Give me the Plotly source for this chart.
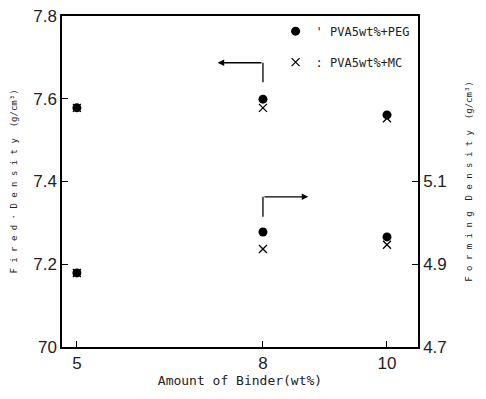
import plotly.graph_objects as go

binder = [5, 8, 10]
peg_fired = [7.578, 7.599, 7.561]
mc_fired = [7.578, 7.578, 7.553]
peg_forming = [4.879, 4.978, 4.966]
mc_forming = [4.879, 4.937, 4.947]

left_ticks = [7.0, 7.2, 7.4, 7.6, 7.8]
left_labels = ["70", "7.2", "7.4", "7.6", "7.8"]
right_ticks = [4.7, 4.9, 5.1]
right_labels = ["4.7", "4.9", "5.1"]
x_ticks = [5, 8, 10]

mono = "DejaVu Sans Mono"
tickfont = dict(family="Liberation Sans", size=17, color="#222")

fig = go.Figure()
fig.add_trace(go.Scatter(x=binder, y=peg_fired, mode="markers", name="' PVA5wt%+PEG",
                         legendgroup="peg", marker=dict(symbol="circle", size=9, color="black")))
fig.add_trace(go.Scatter(x=binder, y=peg_forming, mode="markers", showlegend=False, yaxis="y2",
                         legendgroup="peg", marker=dict(symbol="circle", size=9, color="black")))
fig.add_trace(go.Scatter(x=binder, y=mc_fired, mode="markers", name=": PVA5wt%+MC",
                         legendgroup="mc", marker=dict(symbol="x-thin", size=8, color="black",
                                                       line=dict(width=1.3, color="black"))))
fig.add_trace(go.Scatter(x=binder, y=mc_forming, mode="markers", showlegend=False, yaxis="y2",
                         legendgroup="mc", marker=dict(symbol="x-thin", size=8, color="black",
                                                       line=dict(width=1.3, color="black"))))

# arrows pointing to the axes
fig.add_shape(type="line", x0=8, x1=8, y0=7.64, y1=7.687, xref="x", yref="y",
              line=dict(color="black", width=1.3))
fig.add_annotation(x=7.27, y=7.687, ax=8, ay=7.687, xref="x", yref="y", axref="x", ayref="y",
                   showarrow=True, arrowhead=2, arrowsize=1, arrowwidth=1.3, arrowcolor="black", text="")
fig.add_shape(type="line", x0=8, x1=8, y0=7.315, y1=7.363, xref="x", yref="y",
              line=dict(color="black", width=1.3))
fig.add_annotation(x=8.73, y=7.363, ax=8, ay=7.363, xref="x", yref="y", axref="x", ayref="y",
                   showarrow=True, arrowhead=2, arrowsize=1, arrowwidth=1.3, arrowcolor="black", text="")

fig.update_layout(
    width=486, height=399,
    margin=dict(l=54, r=76, t=8, b=60, autoexpand=False),
    plot_bgcolor="white", paper_bgcolor="white",
    showlegend=True,
    legend=dict(x=0.6, y=0.998, xanchor="left", yanchor="top", bgcolor="rgba(0,0,0,0)",
                font=dict(family=mono, size=12, color="#222"),
                traceorder="grouped", tracegroupgap=12, itemwidth=30),
    xaxis=dict(range=[4.76, 10.5], tickvals=x_ticks, ticktext=[str(v) for v in x_ticks],
               ticks="inside", ticklen=6, tickcolor="black", showline=True, linecolor="black",
               linewidth=1.5, mirror=True, showgrid=False, zeroline=False, tickfont=tickfont,
               automargin=False, ticklabeloverflow="allow",
               title=dict(text="Amount of Binder(wt%)", font=dict(family=mono, size=13, color="#222"),
                          standoff=2)),
    yaxis=dict(range=[7.0, 7.8], tickvals=left_ticks, ticktext=left_labels,
               ticks="inside", ticklen=6, tickcolor="black", showline=True, linecolor="black",
               linewidth=1.5, showgrid=False, zeroline=False, tickfont=tickfont, automargin=False,
               ticklabeloverflow="allow",
               title=dict(text="F i r e d · D e n s i t y  (g/cm³)",
                          font=dict(family=mono, size=9, color="#222"), standoff=14)),
    yaxis2=dict(range=[4.7, 5.5], tickvals=right_ticks, ticktext=right_labels, overlaying="y",
                side="right", ticks="inside", ticklen=6, tickcolor="black", showline=True,
                linecolor="black", linewidth=1.5, showgrid=False, zeroline=False, tickfont=tickfont,
                automargin=False, ticklabeloverflow="allow",
                title=dict(text="F o r m i n g  D e n s i t y  (g/cm³)",
                           font=dict(family=mono, size=9, color="#222"), standoff=20)),
)

fig.write_html("out.html")
